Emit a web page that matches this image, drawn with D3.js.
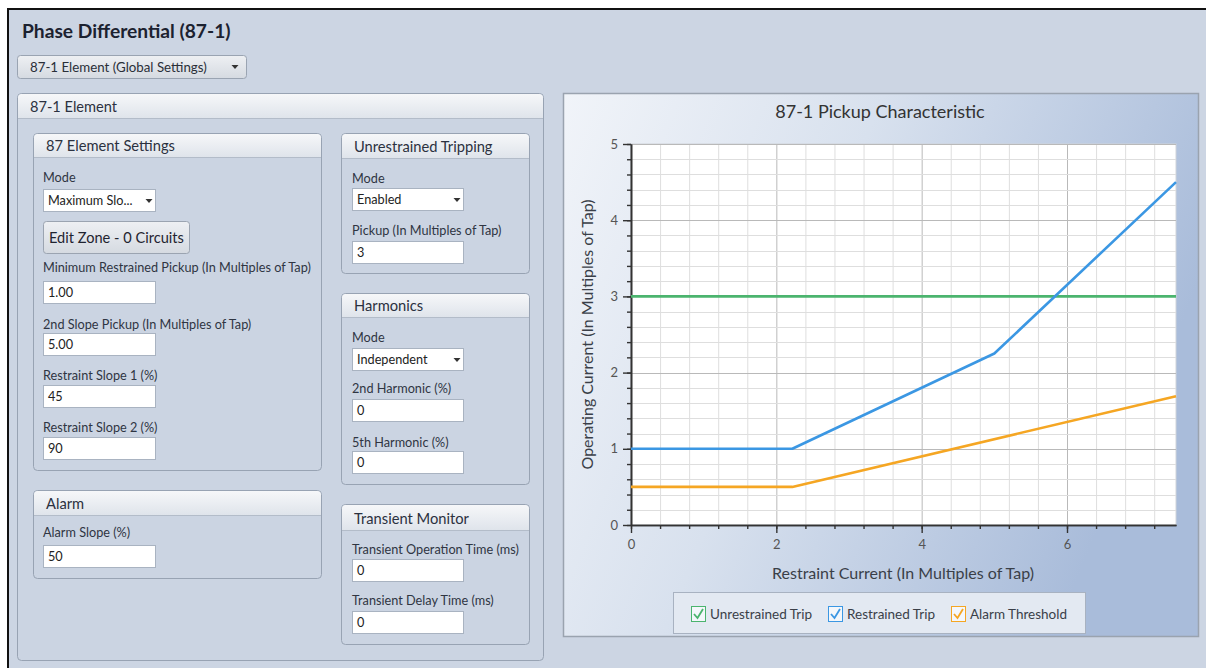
<!DOCTYPE html>
<html><head><meta charset="utf-8">
<script src="https://cdn.jsdelivr.net/npm/d3@7"></script>
<style>
html,body{margin:0;padding:0;background:#fff;}
svg{display:block;font-family:Lato,"Open Sans",sans-serif;}
</style></head>
<body><svg id="c" width="1206" height="668"></svg>
<script>
// ---------- data ----------
const unrestrainedTrip = [[0, 3], [7.5, 3]];
const restrainedTrip = [[0, 1], [2.22, 1], [5, 2.25], [7.5, 4.5]];
const alarmThreshold = [[0, 0.5], [2.22, 0.5], [7.5, 1.69]];
const xTicks = [0, 2, 4, 6];
const yTicks = [0, 1, 2, 3, 4, 5];
const seriesNames = ["Unrestrained Trip", "Restrained Trip", "Alarm Threshold"];
const seriesColors = ["#4bb46e", "#3b97e3", "#f5a623"];
const chartTitle = "87-1 Pickup Characteristic";
const xTitle = "Restraint Current (In Multiples of Tap)";
const yTitle = "Operating Current (In Multiples of Tap)";

const pageTitle = "Phase Differential (87-1)";
const topSelect = "87-1 Element (Global Settings)";
const groups = [
  {title: "87-1 Element", x: 17, y: 93, w: 526, h: 567, hh: 25, fs: 14.6},
  {title: "87 Element Settings", x: 33, y: 133, w: 288, h: 337, hh: 24, fs: 14.7},
  {title: "Alarm", x: 33, y: 490, w: 288, h: 88, hh: 25, fs: 14.7},
  {title: "Unrestrained Tripping", x: 341, y: 133, w: 188, h: 140, hh: 25, fs: 14.7},
  {title: "Harmonics", x: 341, y: 293, w: 188, h: 191, hh: 24, fs: 14.7},
  {title: "Transient Monitor", x: 341, y: 504, w: 188, h: 140, hh: 26, fs: 14.7}
];
const fields = [
  {label: "Mode", ly: 182, x: 43, y: 189, w: 112, value: "Maximum Slo...", kind: "select"},
  {label: "Minimum Restrained Pickup (In Multiples of Tap)", ly: 272, x: 43, y: 281, w: 112, value: "1.00", kind: "input"},
  {label: "2nd Slope Pickup (In Multiples of Tap)", ly: 329, x: 43, y: 333, w: 112, value: "5.00", kind: "input"},
  {label: "Restraint Slope 1 (%)", ly: 380, x: 43, y: 385, w: 112, value: "45", kind: "input"},
  {label: "Restraint Slope 2 (%)", ly: 432, x: 43, y: 437, w: 112, value: "90", kind: "input"},
  {label: "Alarm Slope (%)", ly: 537, x: 43, y: 545, w: 112, value: "50", kind: "input"},
  {label: "Mode", ly: 183, x: 352, y: 188, w: 111, value: "Enabled", kind: "select"},
  {label: "Pickup (In Multiples of Tap)", ly: 235, x: 352, y: 241, w: 111, value: "3", kind: "input"},
  {label: "Mode", ly: 342, x: 352, y: 348, w: 111, value: "Independent", kind: "select"},
  {label: "2nd Harmonic (%)", ly: 393, x: 352, y: 399, w: 111, value: "0", kind: "input"},
  {label: "5th Harmonic (%)", ly: 447, x: 352, y: 451, w: 111, value: "0", kind: "input"},
  {label: "Transient Operation Time (ms)", ly: 554, x: 352, y: 559, w: 111, value: "0", kind: "input"},
  {label: "Transient Delay Time (ms)", ly: 605, x: 352, y: 611, w: 111, value: "0", kind: "input"}
];
const buttonLabel = "Edit Zone - 0 Circuits";

// ---------- drawing ----------
const svg = d3.select("#c");
const defs = svg.append("defs");
function lin(id, stops, x2 = 0, y2 = 1) {
  const g = defs.append("linearGradient").attr("id", id).attr("x1", 0).attr("y1", 0).attr("x2", x2).attr("y2", y2);
  stops.forEach(s => g.append("stop").attr("offset", s[0]).attr("stop-color", s[1]));
}
lin("hdr", [[0, "#f6f7f9"], [1, "#dfe4eb"]]);
lin("btn", [[0, "#eef0f3"], [1, "#d5dae1"]]);
lin("chartBg", [[0, "#f1f4f9"], [0.45, "#d8e1ee"], [1, "#a9bcda"]], 1, 0.35);

// page background + frame
svg.append("rect").attr("x", 8).attr("y", 8).attr("width", 1198).attr("height", 660).attr("fill", "#ccd5e3");
svg.append("rect").attr("x", 7).attr("y", 8).attr("width", 2).attr("height", 660).attr("fill", "#111");
svg.append("rect").attr("x", 7).attr("y", 8).attr("width", 1199).attr("height", 2).attr("fill", "#111");

svg.append("text").attr("x", 22).attr("y", 38).attr("font-size", 19.2).attr("font-weight", 700)
  .attr("fill", "#1c2230").text(pageTitle);

// top selector
svg.append("rect").attr("x", 17.5).attr("y", 55.5).attr("width", 229).attr("height", 23).attr("rx", 3)
  .attr("fill", "url(#btn)").attr("stroke", "#9aa4b2");
svg.append("text").attr("x", 30).attr("y", 72).attr("font-size", 13.3).attr("fill", "#2a2f38").text(topSelect);
function arrow(cx, cy) {
  svg.append("path").attr("d", `M${cx - 3.5},${cy - 2}L${cx + 3.5},${cy - 2}L${cx},${cy + 2}Z`).attr("fill", "#333");
}
arrow(235, 67);

// group boxes
groups.forEach(g => {
  const gg = svg.append("g");
  gg.append("rect").attr("x", g.x + 0.5).attr("y", g.y + 0.5).attr("width", g.w).attr("height", g.h).attr("rx", 4)
    .attr("fill", "#cbd4e2").attr("stroke", "#98a3b3");
  gg.append("path").attr("d", `M${g.x + 1},${g.y + g.hh}V${g.y + 4.5}Q${g.x + 1},${g.y + 1} ${g.x + 4.5},${g.y + 1}H${g.x + g.w - 4}Q${g.x + g.w},${g.y + 1} ${g.x + g.w},${g.y + 4.5}V${g.y + g.hh}Z`)
    .attr("fill", "url(#hdr)");
  gg.append("line").attr("x1", g.x + 1).attr("x2", g.x + g.w).attr("y1", g.y + g.hh + 0.5).attr("y2", g.y + g.hh + 0.5)
    .attr("stroke", "#b3bcc9");
  gg.append("text").attr("x", g.x + 13).attr("y", g.y + g.hh - 6).attr("font-size", g.fs).attr("fill", "#2b3140").text(g.title);
});

// fields
fields.forEach(f => {
  svg.append("text").attr("x", f.x).attr("y", f.ly).attr("font-size", 12.7).attr("fill", "#2f3542").text(f.label);
  svg.append("rect").attr("x", f.x + 0.5).attr("y", f.y + 0.5).attr("width", f.w).attr("height", 22)
    .attr("fill", "#fff").attr("stroke", "#a9b3c1");
  svg.append("text").attr("x", f.x + 5).attr("y", f.y + 16).attr("font-size", 12.7).attr("fill", "#222").text(f.value);
  if (f.kind === "select") arrow(f.x + f.w - 6, f.y + 12);
});

// button
svg.append("rect").attr("x", 43.5).attr("y", 221.5).attr("width", 146).attr("height", 32).attr("rx", 3)
  .attr("fill", "url(#btn)").attr("stroke", "#9ba4b1");
svg.append("text").attr("x", 49).attr("y", 243).attr("font-size", 14.6).attr("fill", "#1f2430").text(buttonLabel);

// ---------- chart panel ----------
svg.append("rect").attr("x", 563.5).attr("y", 93.5).attr("width", 635).attr("height", 543)
  .attr("fill", "url(#chartBg)").attr("stroke", "#9aa3af").attr("stroke-width", 1.5);
svg.append("text").attr("x", 880).attr("y", 118).attr("text-anchor", "middle").attr("font-size", 18)
  .attr("fill", "#333").text(chartTitle);

const x = d3.scaleLinear().domain([0, 7.5]).range([631, 1176]);
const y = d3.scaleLinear().domain([0, 5]).range([525, 144]);

const plot = svg.append("g");
plot.append("rect").attr("x", x(0)).attr("y", y(5)).attr("width", x(7.5) - x(0)).attr("height", y(0) - y(5))
  .attr("fill", "#fff").attr("stroke", "#d0d4da");

const xMinor = d3.range(0, 7.5, 0.4).map(v => +v.toFixed(2));
const yMinor = d3.range(0, 5.01, 0.2).map(v => +v.toFixed(2));
plot.selectAll(".vx").data(xMinor).join("line")
  .attr("x1", d => x(d) + 0.5).attr("x2", d => x(d) + 0.5).attr("y1", y(5)).attr("y2", y(0))
  .attr("stroke", d => xTicks.includes(d) ? "#b9b9b9" : "#dedede").attr("stroke-width", 1);
plot.selectAll(".hy").data(yMinor).join("line")
  .attr("y1", d => Math.round(y(d)) + 0.5).attr("y2", d => Math.round(y(d)) + 0.5).attr("x1", x(0)).attr("x2", x(7.5))
  .attr("stroke", d => yTicks.includes(d) ? "#b9b9b9" : "#dedede").attr("stroke-width", 1);

// axes
const axCol = "#333";
const yAxMinor = svg.append("g").attr("transform", `translate(${x(0)},0)`)
  .call(d3.axisLeft(y).tickValues(yMinor).tickSize(4).tickSizeOuter(0).tickFormat(""));
const yAx = svg.append("g").attr("transform", `translate(${x(0)},0)`)
  .call(d3.axisLeft(y).tickValues(yTicks).tickSize(8).tickSizeOuter(0).tickPadding(5).tickFormat(d3.format("d")));
const xAxMinor = svg.append("g").attr("transform", `translate(0,${y(0)})`)
  .call(d3.axisBottom(x).tickValues(xMinor).tickSize(4).tickSizeOuter(0).tickFormat(""));
const xAx = svg.append("g").attr("transform", `translate(0,${y(0)})`)
  .call(d3.axisBottom(x).tickValues(xTicks).tickSize(8).tickSizeOuter(0).tickPadding(7).tickFormat(d3.format("d")));
[yAxMinor, yAx, xAxMinor, xAx].forEach(a => {
  a.selectAll("path.domain").attr("stroke", axCol).attr("stroke-width", 1.6);
  a.selectAll(".tick line").attr("stroke", axCol).attr("stroke-width", 1.4);
  a.selectAll(".tick text").attr("fill", "#555").attr("font-size", 13).attr("font-family", "Lato, sans-serif");
});

// lines
const line = d3.line().x(d => x(d[0])).y(d => y(d[1]));
[unrestrainedTrip, restrainedTrip, alarmThreshold].forEach((s, i) => {
  svg.append("path").datum(s).attr("d", line).attr("fill", "none")
    .attr("stroke", seriesColors[i]).attr("stroke-width", 2.6).attr("stroke-linejoin", "round");
});

// axis titles
svg.append("text").attr("x", 903).attr("y", 579).attr("text-anchor", "middle").attr("font-size", 16)
  .attr("fill", "#3a3f48").text(xTitle);
svg.append("text").attr("transform", `translate(593,${(y(0) + y(5)) / 2}) rotate(-90)`).attr("text-anchor", "middle")
  .attr("font-size", 16).attr("fill", "#3a3f48").text(yTitle);

// legend
svg.append("rect").attr("x", 673.5).attr("y", 592.5).attr("width", 412).attr("height", 41)
  .attr("fill", "#e3e9f2").attr("stroke", "#a8b2c1");
const legX = [691, 828, 951];
seriesNames.forEach((n, i) => {
  const lx = legX[i], ly = 606;
  svg.append("rect").attr("x", lx + 0.5).attr("y", ly + 0.5).attr("width", 14).attr("height", 15)
    .attr("fill", "#f4f7fb").attr("stroke", seriesColors[i]).attr("stroke-width", 1);
  svg.append("path").attr("d", `M${lx + 3},${ly + 8}L${lx + 6.5},${ly + 12}L${lx + 12},${ly + 3}`)
    .attr("fill", "none").attr("stroke", seriesColors[i]).attr("stroke-width", 1.8);
  svg.append("text").attr("x", lx + 19).attr("y", ly + 13).attr("font-size", 13.5).attr("fill", "#3a3f48").text(n);
});
</script></body></html>
